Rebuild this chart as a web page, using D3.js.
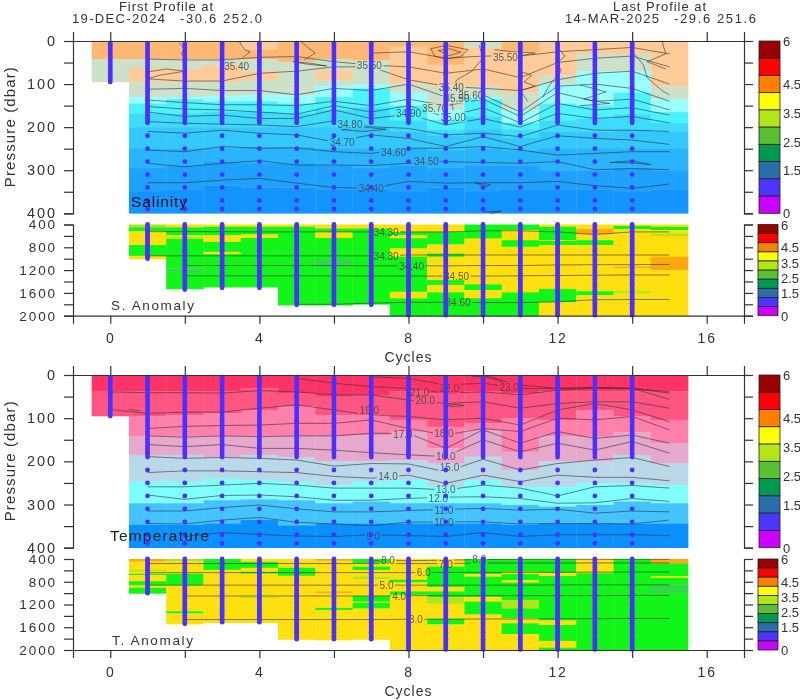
<!DOCTYPE html>
<html><head><meta charset="utf-8">
<script src="https://cdnjs.cloudflare.com/ajax/libs/d3/7.8.5/d3.min.js"></script>
<style>html,body{margin:0;padding:0;background:#fff}svg{display:block;filter:blur(0.35px)}text{font-family:"Liberation Sans",sans-serif;fill:#333}</style>
</head><body><svg id="c" width="800" height="700"></svg>
<script>
const cycleTicks=[0,2,4,6,8,10,12,14,16];
const cycleLabels=[0,4,8,12,16];
const upperTicks=[0,50,100,150,200,250,300,350,400];
const upperLabels=[0,100,200,300,400];
const lowerTicks=[400,600,800,1000,1200,1400,1600,1800,2000];
const lowerLabels=[400,800,1200,1600,2000];
const scaleColors=["#990000","#ff0000","#ff8000","#ffff00","#b2e619","#59bf33","#009950","#2a6eab","#4b36ff","#cc00ff"];
const scaleLabels=[[6,"6"],[4.5,"4.5"],[3.5,"3.5"],[2.5,"2.5"],[1.5,"1.5"],[0,"0"]];
const scaleSteps=[6,5.4,4.8,4.2,3.6,3,2.4,1.8,1.2,0.6,0];

const salPalette=["#ffb873","#ffcc99","#cde0c8","#99ffff","#4df2ff","#3ddcff","#33c8ff","#29b4ff","#1fa2ff","#1494ff"];
const salLayers=[
[[42,0],[95,2]],
[[42,0],[62,2],[95,1],[130,2],[145,3],[168,4],[200,5],[250,6],[295,7],[350,8],[400,9]],
[[42,0],[65,2],[95,1],[130,2],[135,3],[168,4],[200,5],[250,6],[290,7],[345,8],[400,9]],
[[42,0],[55,2],[95,1],[128,2],[140,3],[165,4],[200,5],[250,6],[280,7],[335,8],[400,9]],
[[20,1],[42,0],[70,2],[90,1],[125,2],[140,3],[165,4],[200,5],[245,6],[285,7],[340,8],[400,9]],
[[48,0],[125,2],[145,3],[168,4],[200,5],[245,6],[285,7],[340,8],[400,9]],
[[42,0],[68,2],[90,1],[105,2],[130,3],[160,4],[200,5],[250,6],[290,7],[345,8],[400,9]],
[[45,0],[100,2],[110,3],[155,4],[200,5],[250,6],[295,7],[345,8],[400,9]],
[[13,0],[98,1],[120,2],[150,3],[185,4],[210,5],[250,6],[290,7],[350,8],[400,9]],
[[55,0],[105,1],[160,2],[183,3],[205,4],[220,5],[255,6],[295,7],[340,8],[400,9]],
[[15,2],[105,1],[130,2],[135,3],[175,4],[205,5],[250,6],[290,7],[350,8],[400,9]],
[[25,0],[120,1],[160,2],[190,3],[205,4],[225,5],[255,6],[290,7],[345,8],[400,9]],
[[80,1],[100,2],[145,3],[185,4],[210,5],[250,6],[300,7],[345,8],[400,9]],
[[30,1],[70,2],[150,3],[180,4],[210,5],[250,6],[300,7],[345,8],[400,9]],
[[30,1],[70,2],[120,3],[170,4],[205,5],[250,6],[295,7],[350,8],[400,9]],
[[105,1],[135,2],[165,3],[190,4],[210,5],[250,6],[300,7],[345,8],[400,9]]
];
const salCycles=[1,2,3,4,5,6,7,8,9,10,11,12,13,14,15];
const salContours=[
[329,329,323,319,330,340,342,326,330,329,329,326,336,342,332],
[284,292,284,278,288,288,289,284,280,282,284,280,299,296,299],
[253,257,245,249,248,257,261,249,249,245,253,265,261,257,257],
[210,214,207,214,218,234,218,226,245,222,245,220,226,230,240],
[187,191,193,195,199,185,199,203,218,214,222,195,207,207,210],
[165,175,172,180,180,160,180,170,195,180,200,168,180,175,190],
[152,158,160,165,170,150,165,150,176,155,190,145,160,155,172],
[137,143,148,148,150,140,150,135,150,135,175,120,140,135,160],
[112,110,115,115,125,110,115,100,130,125,165,105,100,110,140],
[88,93,93,75,70,60,60,90,105,110,115,90,75,70,100],
[42,44,44,38,36,48,56,60,75,65,85,50,40,35,60],
[null,null,null,null,null,null,28,25,40,35,35,25,20,15,30]
];
const salWiggles=[
[[1,72],[1.5,65],[2,70],[1.3,80],[1,88]],
[[1.85,4],[2,18],[1.9,30],[2.05,42]],
[[3.45,0],[3.6,20],[3.75,25],[3.55,38]],
[[5.1,0],[5.3,15],[5.5,28],[5.2,44]],
[[4.9,48],[5.4,52],[5.8,58],[5.3,54],[4.9,48]],
[[6.2,206],[6.8,200],[7.4,205],[6.8,210],[6.2,206]],
[[8.6,18],[9,10],[9.6,20],[9.4,36],[9,42],[8.7,35],[8.6,18]],
[[8.8,22],[9.1,18],[9.4,26],[9.1,34],[8.8,22]],
[[9.9,10],[10,40],[9.7,70],[9.3,90],[9.1,120],[9.2,160]],
[[10.3,20],[10.8,25],[11.4,28],[10.9,36],[10.4,28]],
[[11,70],[11.3,80],[11.1,95],[11.4,105],[11,115],[11.2,140]],
[[12,15],[12.2,35],[12,50],[12.1,70],[11.8,100],[11.6,130]],
[[12.6,102],[13.3,118],[12.7,135],[13.4,145],[12.6,150]],
[[14,25],[14.3,55],[14.4,85],[14.8,115],[15,125]],
[[14.8,0],[14.9,30],[14.4,48],[14.9,65]],
[[13.4,282],[14,278],[14.5,287],[14,283],[13.4,282]],
[[9.8,330],[10.2,333],[10.1,338],[9.8,330]],
[[10,397],[10.5,395],[10.2,400]]
];
const salLabels=[["35.40",3.39,58],["35.50",6.95,56],["35.50",10.6,38],["34.80",6.43,193],["34.70",6.22,234],["34.60",7.6,257],["34.50",8.48,280],["34.40",7.0,341],["34.90",8,168],["35.00",9.2,177],["35.70",8.7,156],["35.40",9.15,108],["35.50",9.3,133],["35.60",9.67,125]];

const anomPalette=["#ffe00f","#12f518","#ffa80f","#b0e619","#30d84a"];
const salAnomLayers=[
[],
[[450,3],[520,1],[760,0],[950,1],[1005,0]],
[[450,0],[590,1],[615,0],[655,3],[1170,1],[1230,4],[1530,1]],
[[440,0],[590,1],[705,0],[880,1],[920,0],[1500,1]],
[[440,0],[575,1],[635,0],[1500,1]],
[[440,0],[1815,1]],
[[470,0],[530,1],[635,0],[1005,1],[1140,4],[1815,1]],
[[470,0],[1800,1]],
[[530,0],[590,1],[640,0],[820,1],[965,0],[1580,1],[1695,0],[2000,1]],
[[530,0],[750,1],[910,0],[965,1],[1375,0],[1460,1],[1590,0],[2000,1]],
[[645,1],[1450,0],[1550,1],[1695,0],[2000,1]],
[[500,1],[675,0],[790,1],[1590,0],[2000,1]],
[[440,0],[675,1],[690,0],[760,1],[1530,0],[1765,1],[2000,0]],
[[480,0],[575,2],[675,0],[760,1],[1570,0],[1640,1],[2000,0]],
[[425,0],[480,1],[1140,0],[1170,2],[1570,0],[1610,3],[2000,0]],
[[440,0],[500,1],[560,0],[600,3],[965,0],[1200,2],[2000,0]]
];
const salAnomContours=[
[525,525,525,530,530,530,530,530,530,510,510,530,575,530,530],
[950,950,950,950,950,950,950,935,935,935,935,935,935,935,935],
[null,1120,1120,1120,1120,1120,1125,1125,1125,1120,1120,1110,1105,1105,1100],
[null,1300,1300,1300,1300,1300,1305,1305,1305,1305,1300,1295,1290,1285,1285],
[null,null,null,null,1800,1800,1780,1765,1765,1770,1770,1755,1720,1715,1715]
];
const salAnomLabels=[["34.30",7.4,528],["34.30",7.4,955],["34.40",8.08,1124],["34.50",9.29,1305],["34.60",9.33,1755]];

const tempPalette=["#ff3366","#ff5582","#ff80aa","#e6a8cc","#bbd8e8","#80ffff","#44c4ff","#0a90ff"];
const tempLayers=[
[[38,0],[95,1]],
[[38,0],[95,1],[141,2],[185,3],[247,4],[297,5],[347,6],[400,7]],
[[38,0],[93,1],[141,2],[185,3],[247,4],[297,5],[347,6],[400,7]],
[[38,0],[89,1],[141,2],[190,3],[240,4],[290,5],[344,6],[400,7]],
[[31,0],[81,1],[141,2],[185,3],[243,4],[288,5],[336,6],[400,7]],
[[42,0],[73,1],[141,2],[190,3],[247,4],[290,5],[349,6],[400,7]],
[[50,0],[93,1],[141,2],[200,3],[255,4],[297,5],[344,6],[400,7]],
[[46,0],[93,1],[139,2],[200,3],[247,4],[293,5],[344,6],[400,7]],
[[38,0],[104,1],[131,2],[197,3],[243,4],[297,5],[344,6],[400,7]],
[[42,0],[120,1],[170,2],[205,3],[259,4],[297,5],[344,6],[400,7]],
[[38,0],[112,1],[127,2],[189,3],[243,4],[297,5],[344,6],[400,7]],
[[42,0],[100,1],[178,2],[220,3],[259,4],[301,5],[347,6],[400,7]],
[[38,0],[104,1],[141,2],[200,3],[259,4],[305,5],[344,6],[400,7]],
[[38,0],[81,1],[143,2],[200,3],[251,4],[301,5],[344,6],[400,7]],
[[38,0],[96,1],[133,2],[185,3],[251,4],[293,5],[344,6],[400,7]],
[[38,0],[104,1],[158,2],[205,3],[255,4],[297,5],[344,6],[400,7]]
];
const tempCycles=[0,1,2,3,4,5,6,7,8,9,10,11,12,13,14,15];
const tempContours=[
[null,null,374,365,369,373,374,370,372,374,365,374,370,370,370,372],
[null,344,345,336,330,341,345,349,341,340,340,345,344,344,345,336],
[null,315,315,307,301,310,317,317,314,311,309,313,311,320,315,317],
[null,278,288,279,278,282,290,290,286,283,282,286,297,296,286,293],
[null,259,259,255,251,255,262,262,262,266,255,262,280,259,256,262],
[null,226,222,222,224,226,235,239,232,251,232,247,232,237,237,245],
[null,189,193,191,193,197,211,205,206,224,195,220,205,197,191,212],
[null,161,166,161,170,170,174,180,185,189,150,178,158,174,154,181],
[null,141,144,141,143,141,141,135,135,170,127,158,131,147,139,158],
[null,124,119,117,116,112,112,104,124,139,124,131,100,104,96,127],
[80,89,86,86,77,69,81,93,96,104,100,116,81,66,81,108],
[39,41,41,42,36,39,46,46,58,66,62,77,66,62,62,77],
[null,null,null,null,null,8,19,27,31,42,39,46,35,31,31,56],
[null,null,null,null,null,null,null,4,8,23,19,31,31,29,31,42],
[null,null,null,null,null,null,null,null,null,null,4,23,31,29,31,39]
];
const tempWiggles=[[[9,70],[9.3,68],[9.5,71],[9.2,73],[9,70]],[[0.5,80],[0.8,83]],[[9.7,4],[10.2,3],[10.4,10],[10.7,25]]];
const tempLabels=[["9.0",7.05,373],["10.0",8.95,340],["11.0",8.95,312],["12.0",8.8,285],["13.0",9.0,265],["14.0",7.45,235],["15.0",9.1,213],["16.0",9.0,189],["17.0",7.85,138],["18.0",8.95,134],["19.0",6.95,82],["20.0",8.45,58],["21.0",8.3,39],["22.0",9.1,30],["23.0",10.7,28]];

const tempAnomLayers=[
[],
[[445,2],[590,0],[620,3],[660,0],[680,1],[790,0],[865,1],[905,0],[1005,1]],
[[435,3],[660,0],[865,1],[1320,0],[1355,1],[1545,0]],
[[590,1],[1520,0]],
[[450,0],[555,1],[625,0],[655,1],[1065,0],[1090,3],[1520,0]],
[[555,0],[695,1],[1815,0]],
[[430,2],[970,0],[1000,2],[1260,0],[1295,1],[1825,0]],
[[475,1],[535,0],[595,1],[710,0],[755,3],[1050,0],[1150,1],[1170,0],[1270,1],[1815,0]],
[[765,0],[810,1],[970,0],[1030,1],[2000,0]],
[[535,0],[890,1],[970,0],[1065,1],[1185,3],[1450,0],[1550,1],[2000,0]],
[[665,1],[710,0],[1065,1],[1150,0],[1375,1],[2000,0]],
[[625,1],[665,0],[770,1],[815,0],[1120,1],[1270,3],[1440,1],[1530,0],[1720,1],[1880,0],[2000,0]],
[[640,1],[700,0],[1480,1],[1560,0],[1840,1],[1960,0],[2000,1]],
[[650,0],[2000,1]],
[[2000,1]],
[[480,2],[700,1],[730,0],[850,1],[1000,4],[2000,1]]
];
const tempAnomContours=[
[null,null,null,null,null,null,430,430,420,410,405,405,405,405,405],
[480,480,480,480,480,480,480,480,480,470,470,470,470,470,470],
[640,640,640,640,640,640,640,640,635,635,635,635,630,630,630],
[860,860,860,860,860,860,860,860,860,860,860,855,855,855,855],
[null,1050,1050,1050,1050,1050,1050,1045,1045,1045,1045,1045,1045,1040,1040],
[null,1465,1465,1465,1465,1465,1465,1460,1460,1455,1455,1450,1450,1445,1445]
];
const tempAnomLabels=[["8.0",7.45,425],["8.0",9.9,405],["7.0",9.0,488],["6.0",8.41,640],["5.0",7.41,858],["4.0",7.75,1046],["3.0",8.2,1462]];

const shallowDepths=[5,10,15,20,25,30,35,40,45,50,55,60,65,70,75,80,85,90,95,100,105,110,115,120,125,130,135,140,145,150,155,160,165,170,175,180,185,190];
const deepDepths=[220,250,280,310,340,370,390];
const lowerDepths=[400,430,460,490,520,550,580,610,640,670,700,730,760,790,820,850,880,910,940,970,1000,1030,1060,1090,1120,1150,1180,1210,1240,1270,1300,1330,1360,1390,1420,1450,1480,1510,1540,1570,1600,1630,1660,1690,1720,1750,1780,1810,1840,1870,1900,1930,1960,1990];
const profileCycles=[0,1,2,3,4,5,6,7,8,9,10,11,12,13,14];
const profileMaxDepth=[95,1005,1550,1510,1510,1810,1810,1810,2000,2000,2000,2000,2000,2000,2000];

const svg=d3.select("#c");
const dotColor="#4b30ff";
const x=d3.scaleLinear().domain([-1,17]).range([73,744]);
const halfCell=0.5;

function label(t,xp,yp,o={}){
  const s=svg.append("text").attr("x",xp).attr("y",yp).text(t)
    .attr("font-size",o.size||13).attr("text-anchor",o.anchor||"start");
  if(o.len) s.attr("textLength",o.len).attr("lengthAdjust","spacing");
  if(o.rotate) s.attr("transform",`rotate(${o.rotate} ${xp} ${yp})`);
  if(o.fill) s.style("fill",o.fill);
  return s;
}
function drawLayers(g,y,layers,palette,top){
  layers.forEach((col,i)=>{
    let start=top;
    col.forEach(([end,band])=>{
      if(end<=start) return;
      g.append("rect").attr("x",x(i-halfCell)).attr("width",x(i+halfCell)-x(i-halfCell)+0.3)
       .attr("y",y(start)).attr("height",y(end)-y(start)+0.3).attr("fill",palette[band]);
      start=end;
    });
  });
}
let maskId=0;
function drawContours(g,y,cycles,rows,wiggles,labels,size){
  const id="m"+(maskId++);
  const m=svg.append("mask").attr("id",id).attr("maskUnits","userSpaceOnUse").attr("x",0).attr("y",0).attr("width",800).attr("height",700);
  m.append("rect").attr("width",800).attr("height",700).attr("fill","#fff");
  labels.forEach(([t,c,d])=>{
    const w=t.length*size*0.56;
    m.append("rect").attr("x",x(c)-w/2).attr("y",y(d)-size*0.5).attr("width",w).attr("height",size).attr("fill","#000");
  });
  const cg=g.append("g").attr("mask",`url(#${id})`);
  const line=d3.line().defined(d=>d[1]!=null).x(d=>x(d[0])).y(d=>y(d[1]));
  rows.forEach(r=>cg.append("path").attr("d",line(r.map((v,i)=>[cycles[i],v]))).attr("fill","none").attr("stroke","#333").attr("stroke-opacity",.75).attr("stroke-width",.8));
  wiggles.forEach(r=>cg.append("path").attr("d",line(r)).attr("fill","none").attr("stroke","#333").attr("stroke-opacity",.75).attr("stroke-width",.8));
  labels.forEach(([t,c,d])=>{
    g.append("text").attr("x",x(c)).attr("y",y(d)+size*0.38).attr("text-anchor","middle").attr("font-size",size).style("fill","#444").style("opacity",.85).text(t);
  });
}
function dots(g,y,list,maxDepthFor){
  profileCycles.forEach((c,i)=>{
    list.filter(d=>d<=maxDepthFor(i)).forEach(d=>{
      g.append("circle").attr("cx",x(c)).attr("cy",y(d)).attr("r",2.4).attr("fill",dotColor);
    });
  });
}
function ticksY(y,ticks,labelsList,size){
  const left=d3.axisLeft(y).tickValues(ticks).tickSize(9).tickFormat(d=>labelsList.includes(d)?d:"").tickPadding(7);
  const a=svg.append("g").attr("transform","translate(73,0)").call(left);
  a.selectAll("text").attr("font-size",size).attr("letter-spacing",1.9).style("fill","#333").style("font-family",'"Liberation Sans",sans-serif');
  const right=d3.axisRight(y).tickValues(ticks).tickSize(9).tickFormat("");
  const b=svg.append("g").attr("transform","translate(744,0)").call(right);
  [a,b].forEach(k=>{k.selectAll("path,line").attr("stroke","#333").attr("stroke-width",1.2);});
}
function colorbar(x0,x1,yTop,yBot,labelX){
  const cy=d3.scaleLinear().domain([0,6]).range([yBot,yTop]);
  scaleColors.forEach((col,i)=>{
    svg.append("rect").attr("x",x0).attr("width",x1-x0).attr("y",cy(scaleSteps[i])).attr("height",cy(scaleSteps[i+1])-cy(scaleSteps[i]))
      .attr("fill",col).attr("stroke","#222").attr("stroke-width",.8);
  });
  scaleLabels.forEach(([v,t])=>label(t,labelX,cy(v)+5,{size:13}));
}
function panel(spec){
  const yU=d3.scaleLinear().domain([0,400]).range(spec.upper);
  const yL=d3.scaleLinear().domain([400,2000]).range(spec.lower);
  const gU=svg.append("g"), gL=svg.append("g");
  drawLayers(gU,yU,spec.layers,spec.palette,0);
  drawLayers(gL,yL,spec.anomLayers,anomPalette,400);
  drawContours(gU,yU,spec.cycles,spec.contours,spec.wiggles,spec.labels,spec.labelSize);
  drawContours(gL,yL,salCycles,spec.anomContours,[],spec.anomLabels,10);
  dots(gU,yU,shallowDepths,i=>i===0?95:190);
  dots(gU,yU,deepDepths,i=>i===0?0:400);
  dots(gL,yL,lowerDepths,i=>i===0?0:profileMaxDepth[i]);
  ticksY(yU,upperTicks,upperLabels,14.5);
  ticksY(yL,lowerTicks,lowerLabels,13.5);
  const topAxis=svg.append("g").attr("transform",`translate(0,${spec.upper[0]})`)
    .call(d3.axisTop(x).tickValues(cycleTicks).tickSize(9).tickFormat(""));
  const botAxis=svg.append("g").attr("transform",`translate(0,${spec.lower[1]})`)
    .call(d3.axisBottom(x).tickValues(cycleTicks).tickSize(8).tickPadding(9).tickFormat(d=>cycleLabels.includes(d)?d:""));
  botAxis.selectAll("text").attr("font-size",14).attr("letter-spacing",1.9).style("fill","#333").style("font-family",'"Liberation Sans",sans-serif');
  [topAxis,botAxis].forEach(k=>k.selectAll("path,line").attr("stroke","#333").attr("stroke-width",1.2));
  label("Pressure (dbar)",spec.yLabelX,(spec.upper[0]+spec.upper[1])/2,{size:15,anchor:"middle",rotate:-90,len:120});
  label("Cycles",408,spec.lower[1]+46,{size:14,anchor:"middle",len:47});
  colorbar(759,780,spec.upper[0],spec.upper[1],783);
  colorbar(758,778,spec.lower[0],spec.lower[1],781);
}
panel({upper:[41,213.3],lower:[224.5,315.7],layers:salLayers,palette:salPalette,anomLayers:salAnomLayers,
  cycles:salCycles,contours:salContours,wiggles:salWiggles,labels:salLabels,labelSize:10,anomContours:salAnomContours,anomLabels:salAnomLabels,yLabelX:15});
panel({upper:[375,547.7],lower:[559,650],layers:tempLayers,palette:tempPalette,anomLayers:tempAnomLayers,
  cycles:tempCycles,contours:tempContours,wiggles:tempWiggles,labels:tempLabels,labelSize:10,anomContours:tempAnomContours,anomLabels:tempAnomLabels,yLabelX:15});

label("First Profile at",119,11,{len:94});
label("19-DEC-2024",72,23,{len:93});
label("-30.6  252.0",180,23,{len:82});
label("Last Profile at",613,11,{len:93});
label("14-MAR-2025",565,23,{len:94});
label("-29.6  251.6",674,23,{len:82});
label("Salinity",131,207,{size:15.5,len:56,fill:"#111"});
label("S. Anomaly",111,310,{size:13.5,len:83});
label("Temperature",110,541,{size:15.5,len:99,fill:"#222"});
label("T. Anomaly",112,645,{size:13.5,len:81});
</script></body></html>
